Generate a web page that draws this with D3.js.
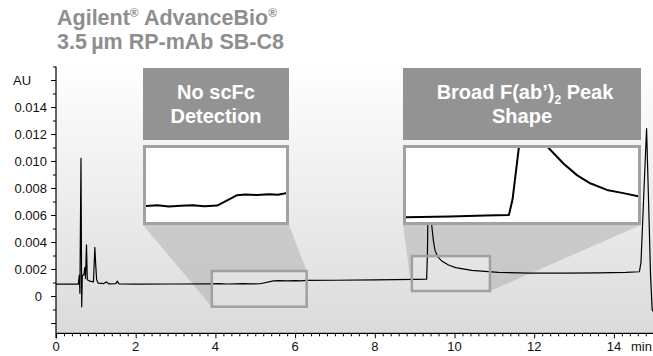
<!DOCTYPE html>
<html>
<head>
<meta charset="utf-8">
<script src="https://cdn.jsdelivr.net/npm/d3@7"></script>
<style>
  body { margin: 0; background: #fff; }
  svg { display: block; }
  text { font-family: "Liberation Sans", Arial, Helvetica, sans-serif; }
</style>
</head>
<body>
<svg id="chart" width="653" height="356"></svg>
<script>
// Chromatogram: retention time (min) and UV absorbance (AU)
const times = [
  0.00, 0.30, 0.56, 0.585, 0.60, 0.627, 0.645, 0.66, 0.70, 0.725, 0.74, 0.765, 0.785,
  0.85, 0.94, 0.975, 0.995, 1.02, 1.06, 1.20, 1.27, 1.32, 1.50, 1.54, 1.58, 2.0, 3.0,
  3.9, 4.1, 4.3, 4.5, 4.7, 4.9, 5.12, 5.46, 5.6, 5.8, 6.0, 6.15, 6.29, 7.0, 8.0, 9.0,
  9.30, 9.32, 9.34, 9.37, 9.41, 9.43, 9.47, 9.51, 9.58, 9.68, 9.85, 10.03, 10.43,
  11.1, 11.9, 12.8, 13.6, 14.3, 14.64, 14.68, 14.75, 14.82, 14.87, 14.92, 14.96, 15.0
];
const absorbance = [
  0.00088, 0.00089, 0.00088, 0.00155, 0.0002, 0.0102, -0.0008, 0.0015, 0.0016, 0.0021, 0.0013, 0.0038, 0.0012,
  0.0011, 0.00105, 0.0036, 0.0024, 0.0012, 0.00095, 0.00092, 0.00105, 0.00090, 0.00092, 0.0011, 0.00090, 0.00088, 0.00089,
  0.00090, 0.000915, 0.00089, 0.000905, 0.000915, 0.000895, 0.00091, 0.00112, 0.001135, 0.001125, 0.00114, 0.00113, 0.00116, 0.00117, 0.00120, 0.00123,
  0.00125, 0.0030, 0.0075, 0.0085, 0.0065, 0.0052, 0.0041, 0.0034, 0.0029, 0.0026, 0.0023, 0.0021, 0.0019,
  0.00175, 0.0017, 0.0017, 0.00172, 0.00175, 0.0018, 0.0025, 0.0075, 0.0124, 0.0070, 0.0015, -0.0010, -0.0012
];

// Magnified trace for the F(ab')2 detail panel
const fabTimes = [8.93, 9.30, 9.60, 9.799, 9.83, 9.883, 9.90, 10.10, 10.135, 10.262, 10.374, 10.486, 10.627, 10.766, 10.892];
const fabAbsorbance = [0.00119, 0.00122, 0.00126, 0.00128, 0.00191, 0.0040, 0.0060, 0.0046, 0.0040, 0.00336, 0.00290, 0.00257, 0.00230, 0.00217, 0.00204];

// Axis ticks and labels
const xLabelValues = [0, 2, 4, 6, 8, 10, 12, 14];
const xUnit = "min";
const yLabelValues = [0, 0.002, 0.004, 0.006, 0.008, 0.010, 0.012, 0.014];
const yLabels = ["0", "0.002", "0.004", "0.006", "0.008", "0.010", "0.012", "0.014"];
const yUnit = "AU";

// Title lines; "^" marks a superscript part
const titleLines = [["Agilent", "^®", " AdvanceBio", "^®"], ["3.5\u2009µm RP-mAb SB-C8"]];

// Zoomed regions: captions, time window, AU window on the main trace, AU window in the panel
const zoomCaptions = [["No scFc", "Detection"], ["Broad F(ab’)", "Shape"]];
const zoomTimeRanges = [[3.91, 6.29], [8.93, 10.89]];
const zoomAURanges = [[-0.00079, 0.00185], [0.00037, 0.00296]];
const panelAURanges = [[0.00058, 0.00207], [0.0010, 0.0040]];

const svg = d3.select("#chart");
const W = 653, H = 356;
const plot = { left: 56, right: 653.75, top: 66.5, bottom: 333.3 };

const x = d3.scaleLinear().domain([0, 15]).range([plot.left, plot.right]);
const y = d3.scaleLinear().domain([-0.00276, 0.017]).range([plot.bottom, plot.top]);

const mainData = times.map((t, i) => ({ t, a: absorbance[i] }));
const fabData = fabTimes.map((t, i) => ({ t, a: fabAbsorbance[i] }));

// Background gradient of the plotting area
const defs = svg.append("defs");
const grad = defs.append("linearGradient").attr("id", "bg").attr("x1", 0).attr("y1", 0).attr("x2", 0).attr("y2", 1);
grad.append("stop").attr("offset", "0%").attr("stop-color", "#ffffff");
grad.append("stop").attr("offset", "100%").attr("stop-color", "#dbdbdb");
svg.append("rect")
  .attr("x", plot.left).attr("y", 60)
  .attr("width", W - plot.left).attr("height", plot.bottom - 60)
  .attr("fill", "url(#bg)");

// Title
const title = svg.append("g").attr("fill", "#8e8e8e").attr("font-weight", "bold").attr("font-size", 21.5);
titleLines.forEach((parts, li) => {
  const t = title.append("text").attr("x", 57).attr("y", 25 + li * 24);
  let raised = false;
  parts.forEach(p => {
    if (p.startsWith("^")) {
      t.append("tspan").attr("font-size", 12).attr("dy", -8).text(p.slice(1));
      raised = true;
    } else {
      t.append("tspan").attr("dy", raised ? 8 : 0).text(p);
      raised = false;
    }
  });
});

// Panel layout for the magnified views
const panels = [
  { left: 143, right: 289 },
  { left: 403, right: 641 }
].map(p => Object.assign(p, { headTop: 68, headBottom: 140, boxTop: 145, boxBottom: 225 }));

// Connecting shades between panels and zoom windows
zoomTimeRanges.forEach((tr, i) => {
  const p = panels[i];
  const rx0 = x(tr[0]), rx1 = x(tr[1]);
  const ry0 = y(zoomAURanges[i][1]), ry1 = y(zoomAURanges[i][0]);
  const pts = [[p.left, p.boxBottom], [p.right, p.boxBottom], [rx0, ry0], [rx1, ry0], [rx1, ry1], [rx0, ry1]];
  const hull = d3.polygonHull(pts);
  const path = "M" + hull.join("L") + "Z" + `M${rx0},${ry0}L${rx1},${ry0}L${rx1},${ry1}L${rx0},${ry1}Z`;
  svg.append("path").attr("d", path).attr("fill", "#a6a6a6").attr("fill-opacity", 0.45).attr("fill-rule", "evenodd");
});

// Main trace
svg.append("path")
  .datum(mainData)
  .attr("fill", "none").attr("stroke", "#000").attr("stroke-width", 1.2).attr("stroke-linejoin", "round")
  .attr("d", d3.line().x(d => x(d.t)).y(d => y(d.a)));

// Zoom windows on the main trace
zoomTimeRanges.forEach((tr, i) => {
  const ry0 = y(zoomAURanges[i][1]), ry1 = y(zoomAURanges[i][0]);
  svg.append("rect")
    .attr("x", x(tr[0])).attr("y", ry0)
    .attr("width", x(tr[1]) - x(tr[0])).attr("height", ry1 - ry0)
    .attr("fill", "none").attr("stroke", "#a0a0a0").attr("stroke-width", 2.5);
});

// Magnified panels
panels.forEach((p, i) => {
  const g = svg.append("g");
  g.append("rect").attr("x", p.left).attr("y", p.headTop)
    .attr("width", p.right - p.left).attr("height", p.headBottom - p.headTop).attr("fill", "#939393");
  const cx = (p.left + p.right) / 2;
  const cap = zoomCaptions[i];
  const t1 = g.append("text").attr("x", cx + (i === 1 ? 3 : 0)).attr("y", 99).attr("text-anchor", "middle")
    .attr("fill", "#fff").attr("font-weight", "bold").attr("font-size", 20);
  t1.append("tspan").text(cap[0]);
  if (i === 1) {
    t1.append("tspan").attr("font-size", 12).attr("dy", 5).text("2");
    t1.append("tspan").attr("dy", -5).text(" Peak");
  }
  g.append("text").attr("x", cx).attr("y", 123).attr("text-anchor", "middle")
    .attr("fill", "#fff").attr("font-weight", "bold").attr("font-size", 20).text(cap[1]);

  // white detail box
  g.append("rect").attr("x", p.left + 1.5).attr("y", p.boxTop + 1.5)
    .attr("width", p.right - p.left - 3).attr("height", p.boxBottom - p.boxTop - 3)
    .attr("fill", "#fff").attr("stroke", "#a2a2a2").attr("stroke-width", 3);

  const inner = { l: p.left + 3, r: p.right - 3, t: p.boxTop + 3, b: p.boxBottom - 3 };
  const clipId = "clip" + i;
  defs.append("clipPath").attr("id", clipId).append("rect")
    .attr("x", inner.l).attr("y", inner.t).attr("width", inner.r - inner.l).attr("height", inner.b - inner.t);
  const px = d3.scaleLinear().domain(zoomTimeRanges[i]).range([inner.l, inner.r]);
  const py = d3.scaleLinear().domain(panelAURanges[i]).range([inner.b, inner.t]);
  const data = i === 0 ? mainData : fabData;
  g.append("path").datum(data)
    .attr("clip-path", `url(#${clipId})`)
    .attr("fill", "none").attr("stroke", "#000").attr("stroke-width", 2).attr("stroke-linejoin", "round")
    .attr("d", d3.line().x(d => px(d.t)).y(d => py(d.a)));
});

// X axis
const xTickValues = d3.range(0, 75).map(k => k / 5);
const xAxis = svg.append("g").attr("transform", `translate(0,${plot.bottom})`)
  .call(d3.axisBottom(x).tickValues(xTickValues).tickSize(3).tickFormat(""));
xAxis.select(".domain").attr("stroke", "#000").attr("stroke-width", 1.2)
  .attr("d", `M${plot.left},0H${W}`);
xAxis.selectAll(".tick line").attr("stroke", "#000").attr("stroke-width", 1)
  .attr("y2", d => (xLabelValues.includes(Math.round(d * 10) / 10) ? 5 : 3));
svg.append("g").selectAll("text").data(xLabelValues).join("text")
  .attr("x", d => x(d)).attr("y", 351).attr("text-anchor", "middle")
  .attr("font-size", 13).attr("fill", "#111").text(d => d);
svg.append("text").attr("x", 631).attr("y", 351).attr("font-size", 13).attr("fill", "#111").text(xUnit);

// Y axis
const yTickValues = d3.range(-2, 18).map(k => k / 1000);
const yAxis = svg.append("g").attr("transform", `translate(${plot.left},0)`)
  .call(d3.axisLeft(y).tickValues(yTickValues).tickSize(3).tickFormat(""));
yAxis.select(".domain").attr("stroke", "#000").attr("stroke-width", 1.2)
  .attr("d", `M0,${y(0.017)}V${plot.bottom + 5}`);
yAxis.selectAll(".tick line").attr("stroke", "#000").attr("stroke-width", 1)
  .attr("x2", d => (Math.round(d * 1000) % 2 === 0 ? -5 : -3));
svg.append("g").selectAll("text").data(yLabelValues).join("text")
  .attr("x", d => (d === 0 ? 42 : 47)).attr("y", d => y(d)).attr("dy", "0.35em")
  .attr("text-anchor", "end").attr("font-size", 13).attr("fill", "#111")
  .text((d, i) => yLabels[i]);
svg.append("text").attr("x", 13).attr("y", y(0.016)).attr("dy", "0.35em")
  .attr("font-size", 13).attr("fill", "#111").text(yUnit);
</script>
</body>
</html>
